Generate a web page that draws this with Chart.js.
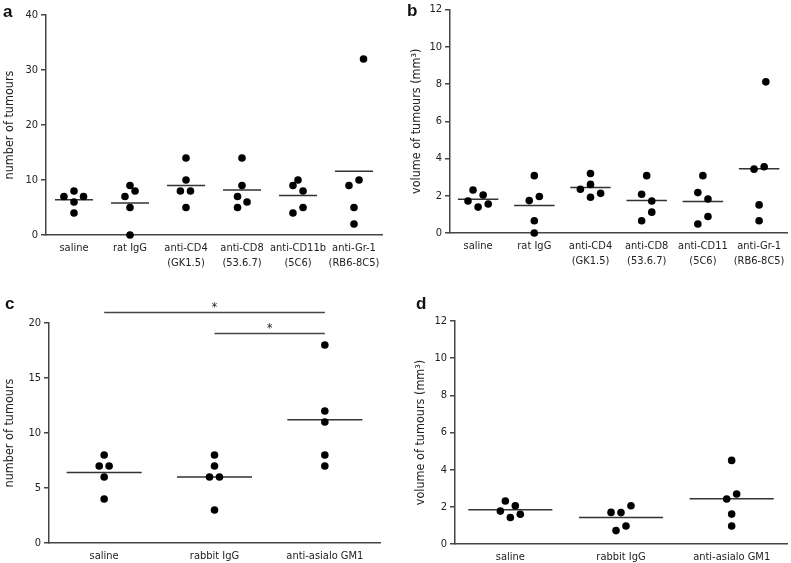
<!DOCTYPE html>
<html>
<head>
<meta charset="utf-8">
<script src="https://cdn.jsdelivr.net/npm/chart.js@4/dist/chart.umd.min.js"></script>
<style>
  body { margin: 0; background: #fff; width: 791px; height: 563px; position: relative; overflow: hidden; }
  canvas { position: absolute; }
  .tag { position: absolute; font: bold 17px "Liberation Sans", Arial, sans-serif; line-height: 16px; color: #111; }
</style>
</head>
<body>
<canvas id="chartA" width="395" height="280" style="left:0;top:0"></canvas>
<canvas id="chartB" width="396" height="280" style="left:395px;top:0"></canvas>
<canvas id="chartC" width="395" height="283" style="left:0;top:280px"></canvas>
<canvas id="chartD" width="396" height="283" style="left:395px;top:280px"></canvas>
<div class="tag" style="left:3px;top:4px">a</div>
<div class="tag" style="left:407px;top:3px">b</div>
<div class="tag" style="left:5px;top:296px">c</div>
<div class="tag" style="left:416px;top:296px">d</div>
<script>
// groups
const groupsAB = [["saline"], ["rat IgG"], ["anti-CD4", "(GK1.5)"], ["anti-CD8", "(53.6.7)"], ["anti-CD11b", "(5C6)"], ["anti-Gr-1", "(RB6-8C5)"]];
const groupsB  = [["saline"], ["rat IgG"], ["anti-CD4", "(GK1.5)"], ["anti-CD8", "(53.6.7)"], ["anti-CD11", "(5C6)"], ["anti-Gr-1", "(RB6-8C5)"]];
const groupsCD = ["saline", "rabbit IgG", "anti-asialo GM1"];

// a: number of tumours
const countA = [[7, 8, 7, 6, 4], [9, 8, 7, 5, 0], [14, 10, 8, 8, 5], [14, 9, 7, 6, 5], [10, 9, 8, 5, 4], [32, 10, 9, 5, 2]];
const jitterA = [[-0.18, 0, 0.17, 0, 0], [0, 0.09, -0.09, 0, 0], [0, 0, -0.1, 0.08, 0], [0, 0, -0.08, 0.09, -0.08], [0, -0.09, 0.09, 0.09, -0.09], [0.17, 0.09, -0.09, 0, 0]];
const meanA = [6.4, 5.8, 9, 8.2, 7.2, 11.6];

// b: volume of tumours
const volB = [[2.31, 2.04, 1.72, 1.56, 1.39], [3.08, 1.96, 1.74, 0.66, 0], [3.2, 2.61, 2.35, 2.13, 1.92], [3.08, 2.08, 1.72, 1.12, 0.66], [3.08, 2.17, 1.83, 0.89, 0.48], [8.12, 3.56, 3.43, 1.51, 0.66]];
const jitterB = [[-0.09, 0.09, -0.18, 0.18, 0], [0, 0.09, -0.09, 0, 0], [0, 0, -0.18, 0.18, 0], [0, -0.09, 0.09, 0.09, -0.09], [0, -0.09, 0.09, 0.09, -0.09], [0.12, 0.09, -0.09, 0, 0]];
const meanB = [1.81, 1.48, 2.44, 1.74, 1.69, 3.45];

// c: number of tumours
const countC = [[8, 7, 7, 6, 4], [8, 7, 6, 6, 3], [18, 12, 11, 8, 7]];
const jitterC = [[0, -0.045, 0.045, 0, 0], [0, 0, -0.045, 0.045, 0], [0, 0, 0, 0, 0]];
const meanC = [6.4, 6.0, 11.2];
const sigC = [{ from: 0, to: 2, level: 21 }, { from: 1, to: 2, level: 19.1 }];

// d: volume of tumours
const volD = [[2.31, 2.06, 1.77, 1.6, 1.43], [2.06, 1.7, 1.69, 0.97, 0.72], [4.5, 2.69, 2.42, 1.61, 0.97]];
const jitterD = [[-0.045, 0.045, -0.09, 0.09, 0], [0.09, -0.09, 0, 0.045, -0.045], [0, 0.045, -0.045, 0, 0]];
const meanD = [1.84, 1.43, 2.44];

const FONT = '"DejaVu Sans Condensed", "Liberation Sans", sans-serif';
Chart.defaults.font.family = FONT;
Chart.defaults.color = "#222";
const AXIS = "#444";

const sigPlugin = {
  id: "sig",
  afterDraw(chart, args, opts) {
    if (!opts.bars) return;
    const { ctx, scales: { x, y } } = chart;
    ctx.save();
    ctx.strokeStyle = AXIS;
    ctx.lineWidth = 1.5;
    ctx.fillStyle = "#222";
    ctx.font = "12px " + FONT;
    ctx.textAlign = "center";
    opts.bars.forEach(b => {
      const py = Math.round(y.getPixelForValue(b.level)) + 0.5;
      const x1 = x.getPixelForValue(b.from), x2 = x.getPixelForValue(b.to);
      ctx.beginPath();
      ctx.moveTo(x1, py);
      ctx.lineTo(x2, py);
      ctx.stroke();
      ctx.fillText("*", (x1 + x2) / 2, py - 2);
    });
    ctx.restore();
  }
};

function panel(id, p) {
  const dots = [], means = [];
  p.values.forEach((vals, i) => {
    vals.forEach((v, j) => dots.push({ x: i + p.jitter[i][j], y: v }));
    means.push({ x: i - p.half, y: p.means[i] }, { x: i + p.half, y: p.means[i] }, { x: i + 0.5, y: null });
  });
  new Chart(document.getElementById(id), {
    type: "scatter",
    data: {
      datasets: [
        { data: dots, pointRadius: 3.8, pointHoverRadius: 3.8, backgroundColor: "#000", borderWidth: 0, clip: false },
        { type: "line", data: means, borderColor: "#333", borderWidth: 1.5, pointRadius: 0, spanGaps: false, clip: false }
      ]
    },
    options: {
      responsive: false,
      animation: false,
      events: [],
      layout: { padding: { top: p.top, right: p.right, left: 0, bottom: 0 } },
      plugins: { legend: { display: false }, tooltip: { enabled: false }, sig: { bars: p.sig } },
      scales: {
        x: {
          type: "linear",
          min: -0.5,
          max: p.labels.length - 0.5,
          afterBuildTicks: s => { s.ticks = p.labels.map((_, i) => ({ value: i })); },
          afterFit: s => { s.height = p.xh; },
          grid: { display: false, drawTicks: false },
          border: { color: AXIS, width: 1.5 },
          ticks: { padding: 6, maxRotation: 0, autoSkip: false, font: { size: 11, lineHeight: 1.35 }, callback: v => p.labels[v] }
        },
        y: {
          min: 0,
          max: p.max,
          ticks: { stepSize: p.step, padding: 3, font: { size: 11 } },
          afterFit: s => { s.width = p.left; },
          grid: { drawOnChartArea: false, drawTicks: true, tickLength: 5, color: AXIS, lineWidth: 1.5 },
          border: { color: AXIS, width: 1.5 },
          title: { display: true, text: p.title, font: { size: 12.5 }, padding: { top: p.tpad, bottom: 0 } }
        }
      }
    },
    plugins: [sigPlugin]
  });
}

panel("chartA", { labels: groupsAB, values: countA, jitter: jitterA, means: meanA, half: 0.34, max: 40, step: 10,
  title: "number of tumours", left: 46, top: 15, right: 13, xh: 45, tpad: 2 });
panel("chartB", { labels: groupsB, values: volB, jitter: jitterB, means: meanB, half: 0.36, max: 12, step: 2,
  title: "volume of tumours (mm³)", left: 55, top: 8, right: 3, xh: 47, tpad: 14 });
panel("chartC", { labels: groupsCD, values: countC, jitter: jitterC, means: meanC, half: 0.34, max: 20, step: 5,
  title: "number of tumours", left: 49, top: 43, right: 15, xh: 20, tpad: 2, sig: sigC });
panel("chartD", { labels: groupsCD, values: volD, jitter: jitterD, means: meanD, half: 0.38, max: 12, step: 2,
  title: "volume of tumours (mm³)", left: 60, top: 41, right: 4, xh: 19, tpad: 18 });
</script>
</body>
</html>
